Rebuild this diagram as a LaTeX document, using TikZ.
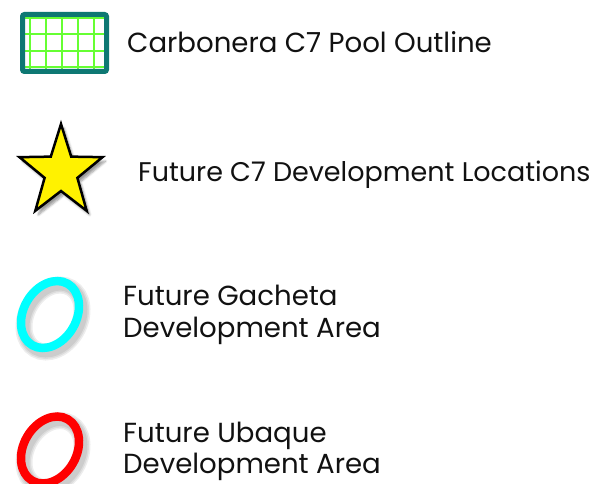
\documentclass[tikz,border=0pt]{standalone}
\usepackage{fontspec}
\setmainfont{Poppins}
\usetikzlibrary{shadows.blur}
\definecolor{tealb}{HTML}{0E7873}
\definecolor{gridg}{HTML}{66FF33}
\definecolor{txt}{HTML}{111111}
\definecolor{ringc}{HTML}{00FFFF}
\definecolor{ringr}{HTML}{FF0000}
\tikzset{
  lbl/.style={anchor=base west, inner sep=0pt, text=txt, font=\fontsize{27.6}{32}\selectfont},
  ringshadow/.style={draw=black, opacity=0.07},
}
\newcommand{\myring}[2]{%
  \foreach \w in {17,14,11} {
    \draw[ringshadow, line width=\w pt, shift={(3,4)}] #1 ellipse [x radius=26.5, y radius=35.5, rotate=-30];
  }
  \draw[#2, line width=8.5pt] #1 ellipse [x radius=26.5, y radius=35.5, rotate=-30];
}
\begin{document}
\begin{tikzpicture}[x=1pt,y=-1pt]
\useasboundingbox (0,0) rectangle (605,484);
% grid box
\fill[white] (22.5,14.5) rectangle (106.5,71.5);
\foreach \x in {30,46,62,78,94} \draw[gridg, line width=2pt] (\x,14.5) -- (\x,71.5);
\foreach \y in {18,34,51,67} \draw[gridg, line width=2pt] (22.5,\y) -- (106.5,\y);
\draw[tealb, line width=5pt, rounded corners=2pt] (22.5,14.5) rectangle (106.5,71.5);
% star
\begin{scope}[shift={(61,172)}]
\draw[fill=yellow, draw=black, line width=2.5pt, line join=miter,
  blur shadow={shadow xshift=3pt, shadow yshift=-4pt, shadow opacity=40, shadow blur steps=6}]
  (0,-48) -- (10.2,-15.37) -- (41.5,-14.83) -- (16.4,5.87) -- (25.7,38.83)
  -- (0,19) -- (-25.7,38.83) -- (-16.4,5.87) -- (-41.5,-14.83) -- (-10.2,-15.37) -- cycle;
\end{scope}
% rings
\myring{(50,314.5)}{ringc}
\myring{(50,450)}{ringr}
% labels
\node[lbl] (l1) at (127,53) {Carbonera C7 Pool Outline};
\node[lbl, font=\fontsize{27}{32}\selectfont] (l2) at (138,182) {Future C7 Development Locations};
\node[lbl] (l3) at (123,305) {Future Gacheta};
\node[lbl] (l4) at (123,337) {Development Area};
\node[lbl] (l5) at (123,442) {Future Ubaque};
\node[lbl] (l6) at (123,473) {Development Area};
\end{tikzpicture}
\end{document}
